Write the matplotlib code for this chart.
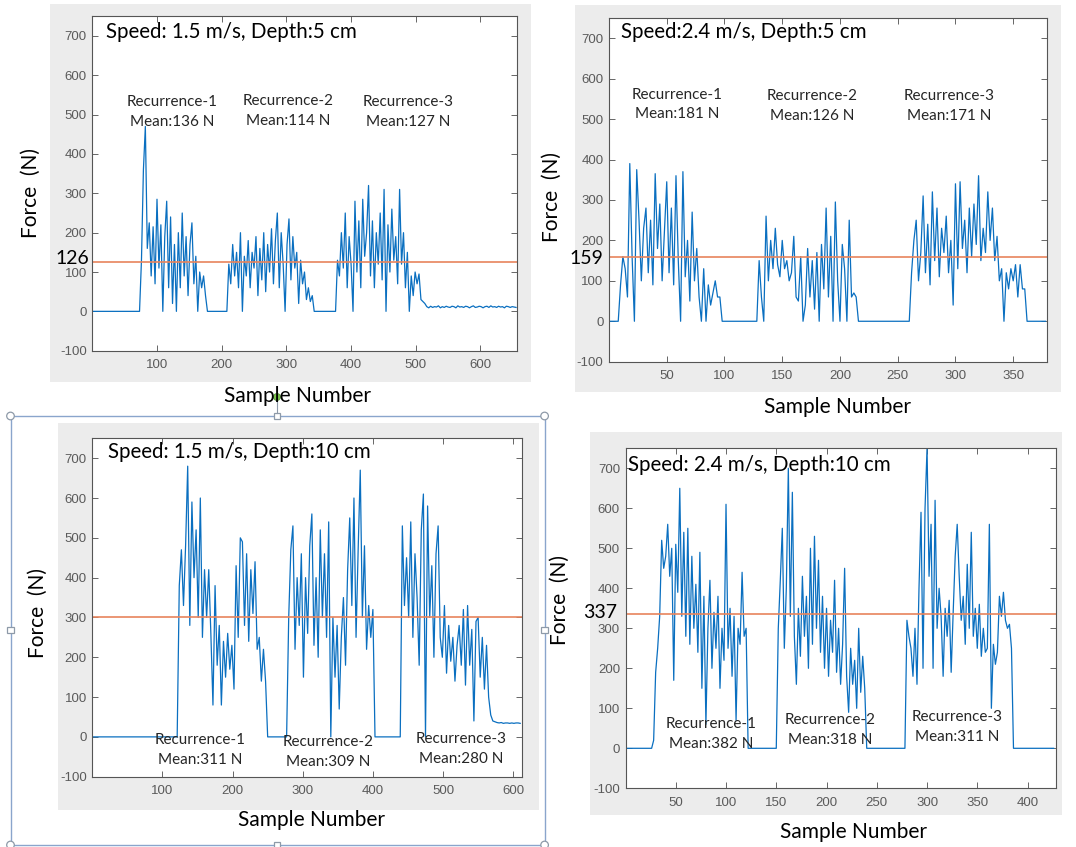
import numpy as np
import matplotlib
matplotlib.use("Agg")
import matplotlib.pyplot as plt
from matplotlib.patches import Rectangle, Circle

plt.rcParams["axes.unicode_minus"] = False

W, H = 1076, 847

# ---------------- data ----------------
# Panel 1: Speed 1.5 m/s, Depth 5 cm (one value every 3 samples, from sample 1)
p1_start, p1_step = 1, 3
p1_force = ([0] * 25
            + [130, 360, 470, 160, 225, 90, 215, 70, 285, 110, 220, 0, 190, 280, 60, 240, 20,
               170, 0, 200, 60, 250, 90, 190, 40, 170, 225, 70, 140, 0, 100, 60, 90, 40]
            + [0] * 11
            + [120, 70, 170, 90, 150, 60, 200, 0, 140, 90, 180, 60, 150, 110, 190, 40, 160, 80,
               200, 50, 170, 100, 210, 70, 180, 250, 60, 200, 120, 0, 170, 235, 80, 190, 110,
               150, 20, 130, 70, 100, 30, 60, 25, 40]
            + [0] * 12
            + [130, 90, 200, 110, 250, 60, 190, 120, 0, 280, 100, 230, 60, 285, 140, 200, 320,
               90, 230, 60, 200, 120, 250, 80, 310, 0, 220, 100, 260, 130, 190, 70, 310, 120,
               200, 60, 150, 0, 90, 40, 100, 70, 95, 30]
            + [25, 20, 12, 9, 13, 10, 12, 11, 14, 9, 12, 10, 13, 11, 10, 13, 12, 9, 14, 11, 12,
               10, 13, 12, 9, 12, 14, 10, 11, 13, 12, 9, 12, 13, 10, 14, 11, 12, 10, 13, 11, 12,
               9, 13, 12, 10, 12, 11, 10])
p1_mean = 126
p1_xticks = [100, 200, 300, 400, 500, 600]
p1_xmax = 656
p1_title = "Speed: 1.5 m/s, Depth:5 cm"
p1_rec = ["Recurrence-1", "Recurrence-2", "Recurrence-3"]
p1_means = ["Mean:136 N", "Mean:114 N", "Mean:127 N"]

# Panel 2: Speed 2.4 m/s, Depth 5 cm (one value every 2 samples, from sample 0)
p2_start, p2_step = 0, 2
p2_force = ([0] * 5
            + [90, 160, 130, 60, 390, 160, 0, 375, 250, 100, 230, 280, 120, 250, 90, 365, 180,
               290, 100, 220, 345, 120, 280, 90, 360, 150, 0, 370, 110, 200, 50, 270, 100, 180,
               60, 0, 130, 0, 90, 40, 70, 100, 60, 60]
            + [0] * 16
            + [150, 60, 0, 260, 100, 200, 130, 230, 140, 110, 200, 130, 150, 100, 120, 210, 60,
               50, 160, 0, 40, 180, 60, 150, 30, 170, 0, 190, 80, 280, 60, 210, 0, 295, 100, 0,
               190, 130, 0, 250, 60, 70, 60]
            + [0] * 23
            + [120, 200, 250, 100, 170, 310, 120, 240, 90, 320, 150, 280, 110, 230, 170, 260,
               120, 200, 40, 340, 130, 345, 180, 250, 120, 280, 160, 290, 190, 360, 150, 230,
               170, 320, 200, 280, 150, 210, 100, 130, 0, 120, 80, 130, 100, 140, 60, 140, 80, 80]
            + [0] * 9)
p2_mean = 159
p2_xticks = [50, 100, 150, 200, 250, 300, 350]
p2_xmax = 379
p2_title = "Speed:2.4 m/s, Depth:5 cm"
p2_rec = ["Recurrence-1", "Recurrence-2", "Recurrence-3"]
p2_means = ["Mean:181 N", "Mean:126 N", "Mean:171 N"]

# Panel 3: Speed 1.5 m/s, Depth 10 cm (one value every 3 samples, from sample 1)
p3_start, p3_step = 1, 3
p3_force = ([0] * 41
            + [380, 470, 330, 480, 680, 280, 590, 400, 520, 300, 600, 250, 420, 300, 420, 260,
               80, 380, 180, 280, 80, 240, 150, 260, 170, 230, 120, 430, 250, 500, 490, 280, 460,
               240, 420, 310, 440, 220, 250, 140, 220, 140]
            + [0] * 10
            + [300, 470, 530, 220, 400, 280, 460, 150, 400, 260, 480, 560, 230, 400, 200, 520,
               300, 460, 250, 540, 0, 300, 150, 280, 70, 250, 350, 180, 420, 550, 330, 600, 250,
               470, 670, 300, 480, 220, 330, 250, 320]
            + [0] * 13
            + [530, 330, 450, 300, 540, 250, 460, 350, 180, 520, 610, 0, 580, 300, 430, 200, 460,
               530, 250, 200, 330, 160, 280, 190, 250, 140, 230, 280, 180, 320, 130, 330, 180,
               270, 40, 290, 300, 150, 250, 120, 230, 100]
            + [55, 40, 38, 36, 35, 36, 34, 35, 35, 34, 35, 34, 35, 35, 34])
p3_mean = 300
p3_xticks = [100, 200, 300, 400, 500, 600]
p3_xmax = 613
p3_title = "Speed: 1.5 m/s, Depth:10 cm"
p3_rec = ["Recurrence-1", "Recurrence-2", "Recurrence-3"]
p3_means = ["Mean:311 N", "Mean:309 N", "Mean:280 N"]

# Panel 4: Speed 2.4 m/s, Depth 10 cm (one value every 2 samples, from sample 0)
p4_start, p4_step = 0, 2
p4_force = ([0] * 14
            + [20, 190, 250, 330, 520, 450, 480, 560, 430, 500, 170, 510, 390, 650, 330, 540,
               280, 550, 260, 480, 300, 410, 240, 490, 150, 380, 60, 300, 420, 200, 340, 250,
               380, 150, 300, 220, 610, 250, 350, 180, 330, 70, 300, 260, 440, 280, 300]
            + [0] * 15
            + [300, 420, 550, 250, 400, 700, 330, 640, 280, 160, 350, 230, 430, 280, 380, 200,
               500, 260, 530, 300, 470, 240, 380, 200, 350, 180, 320, 240, 420, 190, 300, 160,
               260, 450, 180, 90, 250, 160, 220, 100, 300, 140, 230, 150]
            + [0] * 20
            + [320, 280, 250, 180, 300, 160, 400, 590, 200, 600, 750, 430, 560, 200, 620, 300,
               400, 330, 180, 350, 280, 370, 190, 340, 480, 560, 430, 320, 380, 260, 460, 300,
               540, 280, 350, 250, 360, 230, 300, 240, 250, 560, 100, 260, 210, 240, 380, 330,
               390, 320, 300, 310, 250]
            + [0] * 21)
p4_mean = 337
p4_xticks = [50, 100, 150, 200, 250, 300, 350, 400]
p4_xmax = 428
p4_title = "Speed: 2.4 m/s, Depth:10 cm"
p4_rec = ["Recurrence-1", "Recurrence-2", "Recurrence-3"]
p4_means = ["Mean:382 N", "Mean:318 N", "Mean:311 N"]

y_ticks = list(range(-100, 701, 100))
y_label = "Force  (N)"
x_label = "Sample Number"

# ---------------- layout (pixels) ----------------
fig = plt.figure(figsize=(W / 100, H / 100), dpi=100)
fig.patch.set_facecolor("white")

def px_rect(x0, y0, x1, y1):
    return [x0 / W, 1 - y1 / H, (x1 - x0) / W, (y1 - y0) / H]

bg = fig.add_axes([0, 0, 1, 1], zorder=-5)
bg.set_xlim(0, W); bg.set_ylim(H, 0); bg.axis("off")
ov = fig.add_axes([0, 0, 1, 1], zorder=10)
ov.set_xlim(0, W); ov.set_ylim(H, 0); ov.axis("off")
ov.patch.set_alpha(0)

GRAY = "#ececec"
for (x0, y0, x1, y1) in [(50, 4, 531, 382), (575, 5, 1061, 392),
                         (58, 423, 539, 810), (590, 432, 1062, 815)]:
    bg.add_patch(Rectangle((x0, y0), x1 - x0, y1 - y0, facecolor=GRAY, edgecolor="none"))

LINE = "#0a6fc0"
MEANC = "#e8845c"
TICKC = "#5a5a5a"

panels = [
    dict(box=(92.3, 16.3, 516.7, 350.7), f=p1_force, s=p1_start, st=p1_step, m=p1_mean,
         xt=p1_xticks, xm=p1_xmax),
    dict(box=(609.0, 18.0, 1046.7, 361.7), f=p2_force, s=p2_start, st=p2_step, m=p2_mean,
         xt=p2_xticks, xm=p2_xmax),
    dict(box=(92.3, 438.3, 522.3, 776.7), f=p3_force, s=p3_start, st=p3_step, m=p3_mean,
         xt=p3_xticks, xm=p3_xmax),
    dict(box=(625.5, 448.3, 1055.7, 788.3), f=p4_force, s=p4_start, st=p4_step, m=p4_mean,
         xt=p4_xticks, xm=p4_xmax),
]

for p in panels:
    ax = fig.add_axes(px_rect(*p["box"]))
    ax.set_facecolor("white")
    y = np.array(p["f"], dtype=float)
    x = p["s"] + p["st"] * np.arange(len(y))
    ax.plot(x, y, color=LINE, lw=0.9)
    ax.axhline(p["m"], color=MEANC, lw=1.2)
    ax.set_xlim(0, p["xm"])
    ax.set_ylim(-100, 750)
    ax.set_yticks(y_ticks)
    ax.set_xticks(p["xt"])
    ax.tick_params(direction="in", length=4, width=0.7, top=True, right=True,
                   labelsize=9.5, labelcolor=TICKC, color="#666666")
    ax.tick_params(axis="x", pad=6)
    ax.tick_params(axis="y", pad=4)
    for lab in ax.get_xticklabels() + ax.get_yticklabels():
        lab.set_fontfamily("Liberation Sans")
    for sp in ax.spines.values():
        sp.set_color("#555555")
        sp.set_linewidth(0.8)

FONT = "Lato"
TXT = dict(family=FONT, color="black")

# titles inside axes
titles = [(105.7, 31.5, p1_title), (621, 31.5, p2_title),
          (107.7, 451.5, p3_title), (628, 465, p4_title)]
for x0, y0, t in titles:
    ov.text(x0, y0, t, fontsize=14.8, ha="left", va="center", **TXT)

# recurrence annotations
rec_pos = [
    (p1_rec, p1_means, [(171.7, 102.0), (288.0, 101.0), (408.3, 102.0)], 20.0),
    (p2_rec, p2_means, [(676.7, 95.0), (812.0, 96.0), (949.0, 96.0)], 19.5),
    (p3_rec, p3_means, [(200.3, 740.0), (327.7, 742.0), (460.8, 739.3)], 19.5),
    (p4_rec, p4_means, [(711.0, 724.0), (829.8, 720.0), (957.0, 717.3)], 19.5),
]
for recs, means, pos, dy in rec_pos:
    for r, mtxt, (cx, cy) in zip(recs, means, pos):
        ov.text(cx, cy, r, fontsize=11, ha="center", va="center", family=FONT, color="#262626")
        ov.text(cx, cy + dy, mtxt, fontsize=11, ha="center", va="center", family=FONT,
                color="#262626")

# mean value labels
for cx, cy, t in [(72, 258, "126"), (586, 258, "159"), (600, 613, "337")]:
    ov.text(cx, cy, t, fontsize=14, ha="center", va="center", **TXT)

# axis labels
for cx, cy in [(31, 193), (552, 197), (38, 613), (560, 600)]:
    ov.text(cx, cy, y_label, fontsize=15, rotation=90, ha="center", va="center", **TXT)
for cx, cy in [(297, 396), (837, 407), (312, 820), (853, 832)]:
    ov.text(cx, cy, x_label, fontsize=15, ha="center", va="center", **TXT)

# selection frame around the lower-left figure
FR = "#8aa5cc"
fx0, fy0, fx1, fy1 = 10.5, 416, 544.6, 845
ov.add_patch(Rectangle((fx0, fy0), fx1 - fx0, fy1 - fy0, facecolor="none", edgecolor=FR, lw=1.0))
for cx, cy in [(fx0, fy0), (fx1, fy0), (fx0, fy1), (fx1, fy1)]:
    ov.add_patch(Circle((cx, cy), 3.8, facecolor="white", edgecolor="#8e9aa8", lw=0.9))
for cx, cy in [(277, fy0), (277, fy1), (fx0, 630), (fx1, 630)]:
    ov.add_patch(Rectangle((cx - 3.2, cy - 3.2), 6.4, 6.4, facecolor="white",
                           edgecolor="#8e9aa8", lw=0.9))
ov.plot([277, 277], [400, fy0 - 3], color="#8e9aa8", lw=0.8)
ov.add_patch(Circle((277, 397), 3.5, facecolor="#7cc34e", edgecolor="#5a9a3a", lw=0.6))

fig.savefig("out.png", dpi=100, facecolor="white")
